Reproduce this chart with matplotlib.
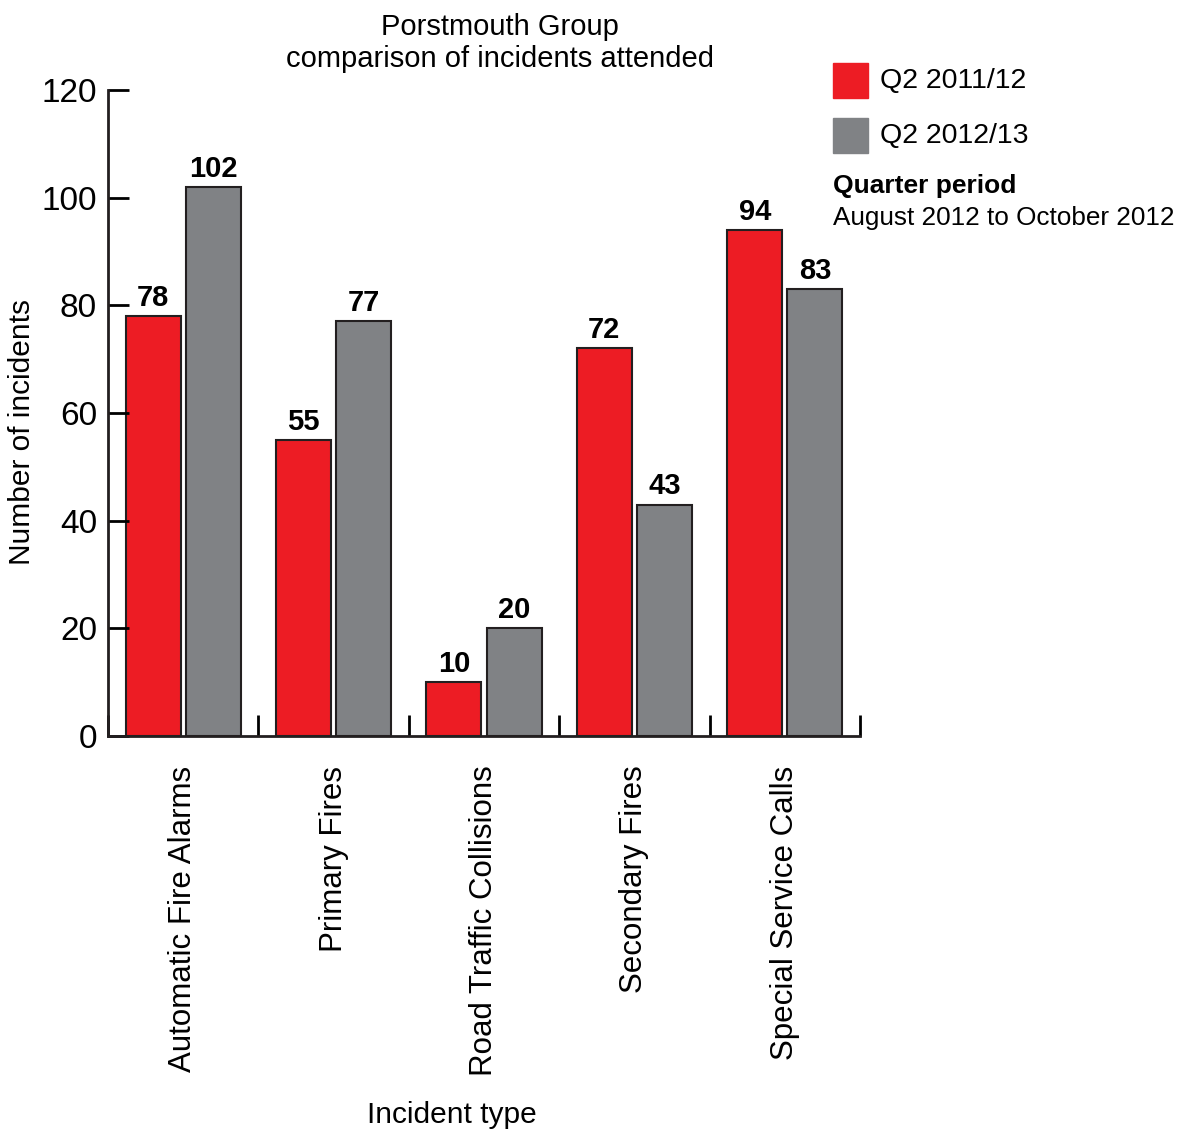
import numpy as np
import matplotlib
matplotlib.use("Agg")
import matplotlib.pyplot as plt
from matplotlib.patches import Rectangle

plt.rcParams['font.family'] = ['Liberation Sans', 'DejaVu Sans']

# Data
categories = ['Automatic Fire Alarms', 'Primary Fires', 'Road Traffic Collisions',
              'Secondary Fires', 'Special Service Calls']
q2_2011 = [78, 55, 10, 72, 94]
q2_2012 = [102, 77, 20, 43, 83]
series_names = ['Q2 2011/12', 'Q2 2012/13']
colors = ['#ED1C24', '#808285']
y_ticks = [0, 20, 40, 60, 80, 100, 120]

W, H = 1179, 1133
fig = plt.figure(figsize=(W / 100, H / 100), dpi=100)
ax = fig.add_axes([108 / W, 1 - 736 / H, (860 - 108) / W, (736 - 90) / H])

x = np.arange(len(categories))
bw = 0.365
off = 0.2
b1 = ax.bar(x - off, q2_2011, bw, color=colors[0], edgecolor='#231F20', linewidth=1.5)
b2 = ax.bar(x + off, q2_2012, bw, color=colors[1], edgecolor='#231F20', linewidth=1.5)

for bars, vals in [(b1, q2_2011), (b2, q2_2012)]:
    for rect, v in zip(bars, vals):
        ax.text(rect.get_x() + rect.get_width() / 2, v + 0.8, str(v),
                ha='center', va='bottom', fontsize=21, fontweight='bold')

ax.set_xlim(-0.5, len(categories) - 0.5)
ax.set_ylim(0, 120)
ax.set_yticks(y_ticks)
ax.tick_params(axis='y', direction='in', length=15, width=2, labelsize=24, pad=8)

# category labels centred, ticks at group boundaries
ax.set_xticks(np.arange(len(categories) + 1) - 0.5)
ax.set_xticklabels([])
ax.tick_params(axis='x', direction='in', length=15, width=2)
for i, c in enumerate(categories):
    ax.text(i, -5.5, c, rotation=90, ha='center', va='top', fontsize=22.5)

for s in ['top', 'right']:
    ax.spines[s].set_visible(False)
for s in ['left', 'bottom']:
    ax.spines[s].set_linewidth(2)
    ax.spines[s].set_color('#231F20')

fig.text(22 / W, 1 - 432 / H, 'Number of incidents', rotation=90,
         ha='center', va='center', fontsize=21.5)
fig.text(452 / W, 1 - 1115 / H, 'Incident type', ha='center', va='center', fontsize=21.5)
fig.text(500 / W, 1 - 43 / H, 'Porstmouth Group\ncomparison of incidents attended',
         ha='center', va='center', fontsize=21, linespacing=1.2)

# legend
for k, (name, col) in enumerate(zip(series_names, colors)):
    y0 = 63 + k * 55
    fig.patches.append(Rectangle((833 / W, 1 - (y0 + 35) / H), 35 / W, 35 / H,
                                 transform=fig.transFigure, color=col))
    fig.text(880 / W, 1 - (y0 + 18) / H, name, ha='left', va='center', fontsize=20.5)
fig.text(833 / W, 1 - 186 / H, 'Quarter period', ha='left', va='center',
         fontsize=19, fontweight='bold')
fig.text(833 / W, 1 - 218 / H, 'August 2012 to October 2012', ha='left',
         va='center', fontsize=18.8)

fig.savefig('out.png', dpi=100)
